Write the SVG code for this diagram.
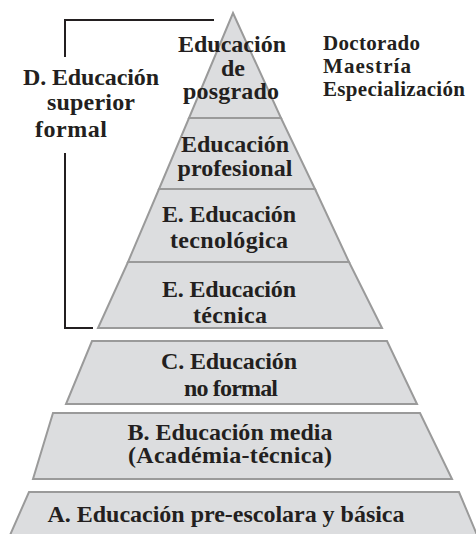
<svg xmlns="http://www.w3.org/2000/svg" width="476" height="534" viewBox="0 0 476 534">
  <style>
    .tier { fill: #dcdddf; stroke: #9a9a9a; stroke-width: 2; stroke-linejoin: miter; }
    .lbl { font-family: "Liberation Serif", "Times New Roman", serif; font-weight: bold; font-size: 24px; fill: #231f20; text-anchor: middle; }
    .side { font-family: "Liberation Serif", "Times New Roman", serif; font-weight: bold; font-size: 24px; fill: #231f20; }
    .list { font-family: "Liberation Serif", "Times New Roman", serif; font-weight: bold; font-size: 21px; fill: #231f20; }
    .bracket { fill: none; stroke: #231f20; stroke-width: 2; }
  </style>
  <rect width="476" height="534" fill="#ffffff"/>

  <!-- bracket grouping the higher-education tiers -->
  <g id="connectors">
    <path class="bracket" d="M214,20 H65 V57 M65,153 V328 H93"/>
  </g>

  <g id="posgrado">
    <polygon class="tier" points="233,13 281,118 189,118"/>
    <text class="lbl" x="232" y="52" textLength="108" lengthAdjust="spacing">Educación</text>
    <text class="lbl" x="233" y="76">de</text>
    <text class="lbl" x="231" y="99" textLength="96" lengthAdjust="spacing">posgrado</text>
  </g>

  <g id="profesional">
    <polygon class="tier" points="189,118 281,118 315,189 159,189"/>
    <text class="lbl" x="235" y="152" textLength="108" lengthAdjust="spacing">Educación</text>
    <text class="lbl" x="235" y="176" textLength="115" lengthAdjust="spacing">profesional</text>
  </g>

  <g id="tecnologica">
    <polygon class="tier" points="159,189 315,189 349,262 128,262"/>
    <text class="lbl" x="229" y="222" textLength="134" lengthAdjust="spacing">E. Educación</text>
    <text class="lbl" x="229" y="248" textLength="118" lengthAdjust="spacing">tecnológica</text>
  </g>

  <g id="tecnica">
    <polygon class="tier" points="128,262 349,262 382,328 98,328"/>
    <text class="lbl" x="229" y="297" textLength="134" lengthAdjust="spacing">E. Educación</text>
    <text class="lbl" x="230" y="323" textLength="74" lengthAdjust="spacing">técnica</text>
  </g>

  <g id="no-formal">
    <polygon class="tier" points="92,341 387,341 417,404 66,404"/>
    <text class="lbl" x="229" y="369" textLength="136" lengthAdjust="spacing">C. Educación</text>
    <text class="lbl" x="231" y="396" textLength="94" lengthAdjust="spacing">no formal</text>
  </g>

  <g id="media">
    <polygon class="tier" points="53,413 420,413 452,479 33,479"/>
    <text class="lbl" x="230" y="440" textLength="205" lengthAdjust="spacing">B. Educación media</text>
    <text class="lbl" x="230" y="463" textLength="204" lengthAdjust="spacing">(Académia-técnica)</text>
  </g>

  <g id="basica">
    <polygon class="tier" points="29,492 459,492 480,542 7,542"/>
    <text class="lbl" x="226" y="522" textLength="357" lengthAdjust="spacing">A. Educación pre-escolara y básica</text>
  </g>

  <g id="superior-formal">
    <text class="side" x="23" y="85" textLength="136" lengthAdjust="spacing">D. Educación</text>
    <text class="side" x="47" y="110" textLength="88" lengthAdjust="spacing">superior</text>
    <text class="side" x="35" y="137" textLength="72" lengthAdjust="spacing">formal</text>
  </g>

  <g id="grados">
    <text class="list" x="323" y="50" textLength="97" lengthAdjust="spacing">Doctorado</text>
    <text class="list" x="323" y="73" textLength="88" lengthAdjust="spacing">Maestría</text>
    <text class="list" x="323" y="96" textLength="142" lengthAdjust="spacing">Especialización</text>
  </g>
</svg>
